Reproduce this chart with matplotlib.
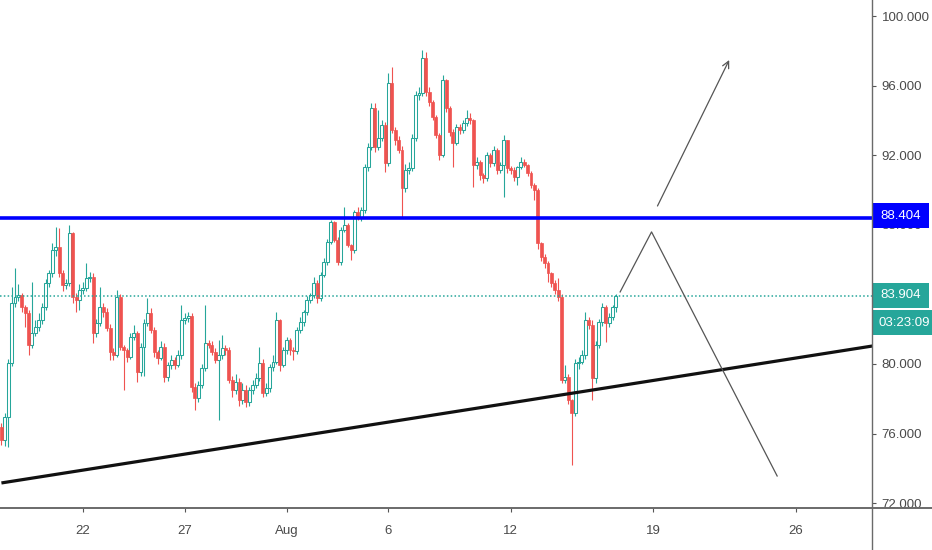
import matplotlib
matplotlib.use('Agg')
import matplotlib.pyplot as plt
import matplotlib.dates as mdates
import matplotlib.transforms as mtransforms
from matplotlib.lines import Line2D
from matplotlib.patches import Rectangle
import numpy as np
import pandas as pd

# 4h candles, open of each candle is the previous close
first_open = 76.38
closes = [75.63, 76.95, 80.06, 83.51, 83.85, 83.97, 83.28, 82.93, 81.09, 81.78,
          82.13, 82.53, 83.28, 84.66, 85.23, 86.55, 86.70, 85.23, 84.54, 84.66,
          87.53, 83.85, 83.68, 84.25, 84.37, 84.94, 85.00, 81.78, 82.36, 83.28,
          82.99, 82.07, 80.69, 80.52, 83.85, 80.98, 80.80, 80.40, 81.55, 81.78,
          79.54, 80.98, 82.36, 82.93, 81.95, 80.69, 80.34, 80.98, 79.25, 79.94,
          80.23, 79.94, 80.52, 82.53, 82.64, 82.76, 78.68, 78.05, 78.79, 79.77,
          81.21, 81.09, 80.69, 80.23, 80.52, 80.92, 80.80, 79.08, 78.51, 78.97,
          77.93, 78.51, 77.82, 78.51, 78.79, 79.20, 80.06, 78.33, 78.62, 79.83,
          80.11, 82.53, 79.94, 80.80, 81.38, 80.80, 80.75, 81.95, 82.41, 82.99,
          83.68, 83.97, 84.66, 83.79, 85.12, 85.86, 87.01, 88.16, 87.13, 85.86,
          87.70, 87.99, 86.84, 86.55, 88.74, 88.45, 88.85, 91.32, 92.47, 94.71,
          92.47, 92.99, 93.74, 91.55, 96.15, 93.45, 92.87, 92.30, 90.11, 91.15,
          91.26, 92.99, 95.46, 95.58, 97.59, 95.63, 95.06, 94.20, 93.16, 92.01,
          96.32, 94.71, 93.33, 92.70, 93.62, 93.45, 93.85, 94.14, 94.02, 91.44,
          91.61, 90.86, 90.69, 92.01, 91.55, 92.30, 91.15, 91.44, 92.87, 91.26,
          91.15, 90.75, 91.32, 91.61, 91.44, 90.98, 90.29, 90.00, 86.95, 86.15,
          85.80, 85.23, 84.66, 84.25, 83.85, 79.08, 79.25, 77.93, 77.18, 80.06,
          80.11, 80.52, 82.53, 82.24, 79.20, 81.09, 82.41, 83.28, 82.36, 82.70,
          83.28, 83.904]
highs = [76.60, 77.20, 80.30, 84.43, 85.52, 84.60, 84.10, 83.40, 83.10, 84.71,
         82.50, 82.90, 83.50, 84.90, 85.40, 86.95, 87.87, 87.82, 85.40, 84.90,
         87.99, 87.60, 84.10, 84.60, 84.70, 85.80, 85.29, 85.20, 82.60, 84.43,
         83.50, 83.20, 82.30, 80.90, 84.25, 84.00, 81.10, 80.90, 81.80, 82.24,
         81.90, 81.20, 82.60, 83.79, 83.20, 82.10, 80.80, 81.30, 81.20, 80.10,
         80.50, 80.40, 80.80, 83.39, 82.93, 83.00, 82.90, 78.90, 79.00, 80.00,
         83.39, 81.38, 81.30, 80.90, 81.40, 81.67, 81.10, 81.00, 79.30, 79.40,
         79.20, 78.90, 78.80, 78.70, 79.10, 79.50, 80.98, 80.30, 78.90, 80.00,
         80.50, 82.99, 82.60, 81.00, 81.55, 81.50, 81.00, 82.10, 82.70, 83.10,
         83.90, 84.10, 85.00, 84.80, 85.30, 86.10, 87.20, 88.30, 88.20, 87.30,
         87.90, 89.02, 88.10, 86.90, 88.85, 89.00, 89.00, 91.50, 92.70, 95.00,
         95.00, 94.60, 94.00, 93.90, 96.72, 97.07, 93.60, 93.10, 92.50, 91.50,
         91.60, 93.20, 95.70, 95.90, 98.05, 97.93, 95.90, 95.20, 94.30, 93.30,
         96.60, 96.40, 94.80, 93.50, 93.80, 93.80, 94.00, 94.60, 94.40, 94.10,
         91.90, 91.70, 91.00, 92.20, 92.10, 92.50, 92.40, 91.60, 93.16, 92.90,
         91.40, 91.30, 91.40, 91.90, 91.80, 91.50, 91.10, 90.40, 90.10, 87.00,
         86.30, 85.90, 85.30, 84.80, 84.94, 84.00, 79.94, 79.40, 78.00, 80.30,
         80.40, 80.80, 82.99, 82.70, 82.50, 81.30, 82.60, 83.50, 83.40, 82.90,
         83.40, 84.00]
lows = [75.34, 75.29, 75.20, 79.90, 83.30, 83.60, 83.00, 82.13, 80.52, 80.90,
        81.60, 81.90, 82.30, 83.10, 84.40, 85.00, 86.20, 85.00, 84.20, 84.30,
        84.50, 83.50, 83.00, 83.10, 84.00, 84.20, 84.70, 81.20, 81.55, 82.20,
        82.70, 81.90, 80.23, 80.20, 80.40, 80.80, 78.50, 80.10, 80.30, 81.40,
        78.97, 79.30, 79.30, 82.20, 81.80, 80.40, 80.00, 80.20, 78.97, 79.00,
        79.70, 79.70, 79.80, 80.30, 82.30, 82.40, 78.39, 77.36, 77.80, 78.60,
        79.60, 80.90, 80.50, 80.06, 76.78, 80.30, 80.50, 78.90, 78.10, 78.30,
        77.60, 77.70, 77.50, 77.60, 78.30, 78.60, 79.00, 78.10, 78.16, 78.40,
        79.60, 80.00, 79.60, 79.80, 80.60, 80.50, 80.20, 80.60, 81.80, 82.20,
        82.80, 83.50, 83.80, 83.50, 83.60, 85.00, 85.70, 86.90, 87.00, 85.70,
        85.70, 87.60, 86.70, 85.98, 86.40, 88.30, 88.20, 88.70, 91.10, 92.30,
        92.20, 92.30, 92.80, 91.03, 91.40, 93.30, 92.60, 92.10, 88.39, 89.90,
        90.90, 91.10, 92.80, 95.20, 95.40, 95.40, 94.80, 94.00, 93.00, 91.72,
        91.90, 94.50, 93.10, 91.32, 92.60, 93.20, 93.30, 93.70, 93.80, 90.17,
        91.20, 90.60, 90.40, 90.50, 91.30, 91.40, 90.90, 91.00, 89.60, 91.00,
        90.90, 90.50, 90.29, 91.20, 91.30, 90.80, 90.10, 89.43, 86.60, 85.90,
        85.50, 84.71, 84.40, 84.00, 83.60, 78.90, 78.90, 77.70, 74.20, 77.00,
        79.70, 80.00, 80.30, 82.00, 77.93, 78.90, 80.90, 82.20, 81.26, 82.10,
        82.50, 83.00]

resistance = 88.404
last_price = 83.904
countdown = '03:23:09'
trend_dates = ['2019-07-18 00:00', '2019-08-29 18:00']
trend_prices = [73.16, 81.03]
zigzag_dates = ['2019-08-17 09:00', '2019-08-18 22:00', '2019-08-25 02:00']
zigzag_prices = [84.14, 87.59, 73.56]
arrow_dates = ['2019-08-19 05:00', '2019-08-22 17:30']
arrow_prices = [89.08, 97.47]
xtick_dates = ['2019-07-22', '2019-07-27', '2019-08-01', '2019-08-06',
               '2019-08-12', '2019-08-19', '2019-08-26']
xtick_labels = ['22', '27', 'Aug', '6', '12', '19', '26']
ytick_values = [72, 76, 80, 84, 88, 92, 96, 100]

UP = '#26a69a'
DOWN = '#ef5350'
AXIS = '#555555'
TEXT = '#4a4a4a'
FONT_SIZE = 9.5

plt.rcParams['font.family'] = ['Liberation Sans', 'DejaVu Sans']

fig = plt.figure(figsize=(9.32, 5.5), dpi=100)
ax = fig.add_axes([0, 42 / 550, 872 / 932, 508 / 550])

times = pd.date_range('2019-07-18 00:00', periods=len(closes), freq='4h')
x = mdates.date2num(times)
c = np.array(closes)
o = np.array([first_open] + closes[:-1])
h = np.array(highs)
lo = np.array(lows)
up = c >= o
width = 0.145

wick_colors = np.where(up, UP, DOWN)
ax.vlines(x, lo, h, colors=wick_colors, linewidth=0.8, zorder=2)
ax.bar(x[up], c[up] - o[up], bottom=o[up], width=width, facecolor='white',
       edgecolor=UP, linewidth=0.75, zorder=3)
ax.bar(x[~up], c[~up] - o[~up], bottom=o[~up], width=width, facecolor=DOWN,
       edgecolor=DOWN, linewidth=0.5, zorder=3)

# drawings
ax.axhline(resistance, color='#0000ff', linewidth=2.6, zorder=5)
ax.axhline(last_price, color=UP, linewidth=1.1, linestyle=(0, (1, 1.5)), zorder=4)
td = mdates.date2num(pd.to_datetime(trend_dates))
ax.plot(td, trend_prices, color='#111111', linewidth=2.3, zorder=6,
        solid_capstyle='butt')
zd = mdates.date2num(pd.to_datetime(zigzag_dates))
ax.plot(zd, zigzag_prices, color='#555555', linewidth=0.9, zorder=6)
ad = mdates.date2num(pd.to_datetime(arrow_dates))
ax.annotate('', xy=(ad[1], arrow_prices[1]), xytext=(ad[0], arrow_prices[0]),
            arrowprops=dict(arrowstyle='->', color='#555555', lw=0.9,
                            mutation_scale=12, shrinkA=0, shrinkB=0), zorder=6)

ax.set_xlim(mdates.date2num(pd.Timestamp('2019-07-17 22:20')),
            mdates.date2num(pd.Timestamp('2019-08-29 17:45')))
ax.set_ylim(71.72, 100.92)

for s in ax.spines.values():
    s.set_visible(False)
ax.yaxis.tick_right()
ax.set_yticks(ytick_values)
ax.set_yticklabels(['{:.3f}'.format(v) for v in ytick_values])
ax.set_xticks(mdates.date2num(pd.to_datetime(xtick_dates)))
ax.set_xticklabels(xtick_labels)
ax.tick_params(axis='y', direction='out', length=3, width=0.8, color=AXIS,
               labelcolor=TEXT, labelsize=FONT_SIZE, pad=4)
ax.tick_params(axis='x', direction='out', length=3, width=0.8, color=AXIS,
               labelcolor=TEXT, labelsize=FONT_SIZE, pad=9)

# frame lines of the price and time scales
fig.add_artist(Line2D([0, 1], [42 / 550, 42 / 550], color='#6a6a6a', linewidth=1.4))
fig.add_artist(Line2D([872 / 932, 872 / 932], [0, 1], color='#6a6a6a', linewidth=1.0))

# price labels on the right scale
trans = mtransforms.blended_transform_factory(ax.transAxes, ax.transData)
unit = 17.4  # pixels per price unit


def price_box(center, text, color, width_px):
    hgt = 25 / unit
    ax.add_patch(Rectangle((873 / 872, center - hgt / 2), width_px / 872, hgt,
                           transform=trans, facecolor=color, edgecolor='none',
                           clip_on=False, zorder=10))
    ax.text((873 + width_px / 2) / 872, center, text, transform=trans,
            color='white', fontsize=FONT_SIZE, ha='center', va='center',
            clip_on=False, zorder=11)


price_box(resistance + 0.12, '{:.3f}'.format(resistance), '#0000ff', 56)
price_box(last_price + 0.05, '{:.3f}'.format(last_price), UP, 56)
price_box(last_price - 1.55, countdown, UP, 62)

fig.savefig('out.png', dpi=100, facecolor='white')
